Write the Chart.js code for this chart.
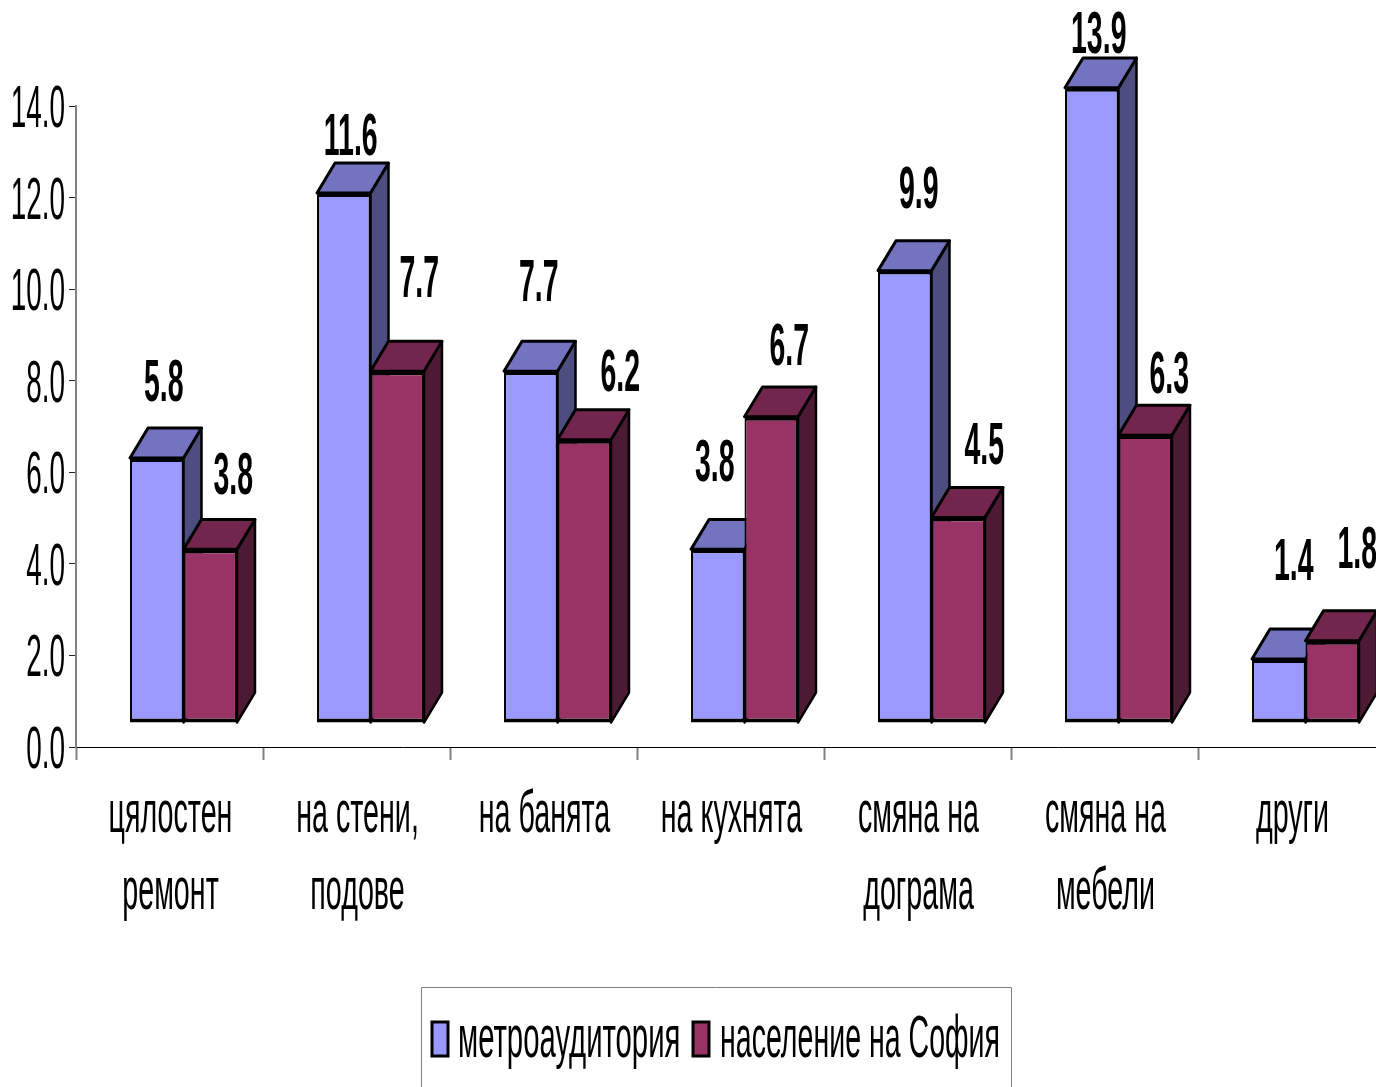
<!DOCTYPE html>
<html>
<head>
<meta charset="utf-8">
<title>Ремонти</title>
<script src="https://cdn.jsdelivr.net/npm/chart.js@4"></script>
<style>
    html, body { margin: 0; padding: 0; background: #fff; overflow: hidden; width: 1376px; height: 1087px; }
    canvas { display: block; }
</style>
</head>
<body>
<canvas id="chart" width="1400" height="1087"></canvas>
<script>
// ========== DATA ==========
const categories = [
    ['цялостен', 'ремонт'],
    ['на стени,', 'подове'],
    ['на банята'],
    ['на кухнята'],
    ['смяна на', 'дограма'],
    ['смяна на', 'мебели'],
    ['други']
];
const metroValues = [5.8, 11.6, 7.7, 3.8, 9.9, 13.9, 1.4];
const sofiaValues = [3.8, 7.7, 6.2, 6.7, 4.5, 6.3, 1.8];
const seriesNames = ['метроаудитория', 'население на София'];
// ==========================

// Old office-style 3D look: front face is moved off the axis, depth goes up and right
const FRONT_DX = 14, FRONT_FLOOR = 723, FRONT_SCALE = 0.998;
const DEPTH_X = 18, DEPTH_Y = 30;
const faces = [
    { side: '#4d4d80', top: '#7373bf' },
    { side: '#4d1a33', top: '#73264d' }
];

// Manually placed value labels, offset from the bar's point (same order as values)
const labelNudge = [
    [[21, -100], [21, -81], [22, -113], [11, -112], [28, -106], [21, -78], [29, -123]],
    [[37, -99], [36, -117], [50, -92], [32, -95], [40, -97], [38, -86], [39, -117]]
];

const TICK_SX = 0.465, VALUE_SX = 0.475, LABEL_SX = 0.478;
const LEGEND_SX = [0.488, 0.476];

// All the text in the picture is squeezed horizontally
function squeezedText(ctx, text, x, y, font, align, sx) {
    ctx.save();
    ctx.font = font;
    ctx.fillStyle = '#000';
    ctx.textBaseline = 'alphabetic';
    ctx.textAlign = align;
    ctx.translate(x, y);
    ctx.scale(sx, 1);
    ctx.fillText(text, 0, 0);
    ctx.restore();
}

function polygon(ctx, pts, fill, width) {
    ctx.beginPath();
    pts.forEach((p, i) => i ? ctx.lineTo(p[0], p[1]) : ctx.moveTo(p[0], p[1]));
    ctx.closePath();
    ctx.fillStyle = fill;
    ctx.fill();
    ctx.lineWidth = width;
    ctx.strokeStyle = '#000';
    ctx.lineJoin = 'round';
    ctx.stroke();
}

const bars3d = {
    id: 'bars3d',
    // bars are painted below, category by category, so the faces overlap correctly
    beforeDatasetDraw() {
        return false;
    },
    afterDatasetsDraw(chart) {
        const ctx = chart.ctx;
        const zero = chart.scales.y.getPixelForValue(0);
        ctx.save();
        ctx.translate(FRONT_DX, FRONT_FLOOR);
        ctx.scale(1, FRONT_SCALE);
        ctx.translate(0, -zero);
        categories.forEach((c, i) => {
            [0, 1].forEach(d => {
                const bar = chart.getDatasetMeta(d).data[i];
                const l = bar.x - bar.width / 2, r = bar.x + bar.width / 2;
                const t = bar.y, b = bar.base;
                polygon(ctx, [[r, t], [r + DEPTH_X, t - DEPTH_Y], [r + DEPTH_X, b - DEPTH_Y], [r, b]], faces[d].side, 2.5);
                polygon(ctx, [[l, t], [l + DEPTH_X, t - DEPTH_Y], [r + DEPTH_X, t - DEPTH_Y], [r, t]], faces[d].top, 3);
                bar.draw(ctx);
            });
        });
        ctx.restore();
    }
};

const squeezedLabels = {
    id: 'squeezedLabels',
    afterDraw(chart) {
        const ctx = chart.ctx;
        const xs = chart.scales.x, ys = chart.scales.y;

        // y tick labels
        ys.ticks.forEach((tick, i) => {
            squeezedText(ctx, tick.label, 65, ys.getPixelForTick(i) + 21, '60px "Liberation Sans"', 'right', TICK_SX);
        });

        // category labels
        categories.forEach((lines, i) => {
            lines.forEach((line, n) => {
                squeezedText(ctx, line, xs.getPixelForTick(i) + 1, 832 + n * 77, '60px "Liberation Sans"', 'center', LABEL_SX);
            });
        });

        // value labels
        [metroValues, sofiaValues].forEach((values, d) => {
            const meta = chart.getDatasetMeta(d);
            values.forEach((v, i) => {
                const nudge = labelNudge[d][i];
                squeezedText(ctx, v.toFixed(1), meta.data[i].x + nudge[0], meta.data[i].y + nudge[1] + 20,
                    'bold 60px "Liberation Sans"', 'center', VALUE_SX);
            });
        });

        // legend
        ctx.save();
        ctx.strokeStyle = '#808080';
        ctx.lineWidth = 1;
        ctx.beginPath();
        ctx.moveTo(421.5, 1090);
        ctx.lineTo(421.5, 987.5);
        ctx.lineTo(1011.5, 987.5);
        ctx.lineTo(1011.5, 1090);
        ctx.stroke();
        ctx.restore();

        const swatchX = [432, 693], textX = [458, 720];
        chart.data.datasets.forEach((ds, d) => {
            ctx.save();
            ctx.fillStyle = ds.backgroundColor;
            ctx.strokeStyle = '#000';
            ctx.lineWidth = 3;
            ctx.fillRect(swatchX[d], 1022, 16, 34);
            ctx.strokeRect(swatchX[d], 1022, 16, 34);
            ctx.restore();
            squeezedText(ctx, ds.label, textX[d], 1057, '60px "Liberation Sans"', 'left', LEGEND_SX[d]);
        });
    }
};

const barBorder = { top: 4, bottom: 4, left: 2, right: 2 };

new Chart(document.getElementById('chart'), {
    type: 'bar',
    data: {
        labels: categories,
        datasets: [
            { label: seriesNames[0], data: metroValues, backgroundColor: '#9999ff', borderColor: '#000', borderWidth: barBorder, borderSkipped: false },
            { label: seriesNames[1], data: sofiaValues, backgroundColor: '#993366', borderColor: '#000', borderWidth: barBorder, borderSkipped: false }
        ]
    },
    options: {
        responsive: false,
        animation: false,
        devicePixelRatio: 1,
        categoryPercentage: 0.572,
        barPercentage: 1,
        layout: { padding: { top: 106, right: 15, left: 0, bottom: 0 } },
        plugins: {
            legend: { display: false },
            tooltip: { enabled: false }
        },
        scales: {
            x: {
                afterFit: s => { s.height = 340; },
                border: { color: '#000', width: 1 },
                grid: { drawOnChartArea: false, tickLength: 13, tickColor: '#808080', tickWidth: 2 },
                ticks: { display: false, autoSkip: false }
            },
            y: {
                min: 0,
                max: 14,
                afterFit: s => { s.width = 76; },
                border: { color: '#808080', width: 2 },
                grid: { drawOnChartArea: false, tickLength: 7, tickColor: '#222', tickWidth: 1 },
                ticks: { display: false, stepSize: 2, callback: v => v.toFixed(1) }
            }
        }
    },
    plugins: [bars3d, squeezedLabels]
});
</script>
</body>
</html>
